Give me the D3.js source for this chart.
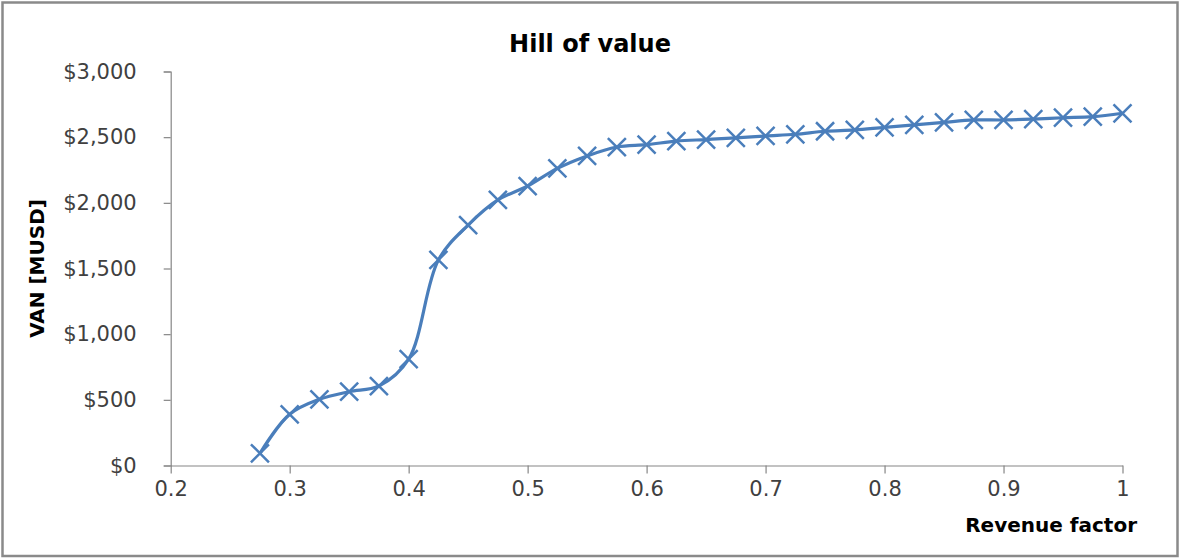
<!DOCTYPE html>
<html>
<head>
<meta charset="utf-8">
<script src="https://cdn.jsdelivr.net/npm/d3@7/dist/d3.min.js"></script>
<style>
  html, body { margin: 0; padding: 0; background: #fff; }
  svg { display: block; }
  text { font-family: "DejaVu Sans", sans-serif; }
</style>
</head>
<body>
<svg id="chart" width="1179" height="559"></svg>
<script>
// Revenue factor (x) and net present value in MUSD (y)
const revenueFactor = [0.275, 0.3, 0.325, 0.35, 0.375, 0.4, 0.425, 0.45, 0.475, 0.5,
  0.525, 0.55, 0.575, 0.6, 0.625, 0.65, 0.675, 0.7, 0.725, 0.75,
  0.775, 0.8, 0.825, 0.85, 0.875, 0.9, 0.925, 0.95, 0.975, 1.0];
const vanMUSD = [93, 390, 504, 562, 605, 810, 1565, 1831, 2022, 2128,
  2262, 2357, 2425, 2443, 2470, 2482, 2494, 2509, 2522, 2545,
  2555, 2575, 2593, 2613, 2631, 2631, 2638, 2648, 2656, 2682];
const xTicks = [0.2, 0.3, 0.4, 0.5, 0.6, 0.7, 0.8, 0.9, 1];
const yTicks = [0, 500, 1000, 1500, 2000, 2500, 3000];

const chartTitle = "Hill of value";
const xTitle = "Revenue factor";
const yTitle = "VAN [MUSD]";

const svg = d3.select("#chart");
const W = 1179, H = 559;
const plot = { left: 170.7, right: 1122.5, top: 71.5, bottom: 465.5 };
const axisColor = "#868686";
const labelColor = "#404040";
const seriesColor = "#4a7ebb";

// chart frame
svg.append("rect")
  .attr("x", 2.5).attr("y", 2.5)
  .attr("width", 1175).attr("height", 553.5)
  .attr("fill", "#fff")
  .attr("stroke", "#8a8a8a")
  .attr("stroke-width", 2.5);

const x = d3.scaleLinear().domain([0.2, 1]).range([plot.left, plot.right]);
const y = d3.scaleLinear().domain([0, 3000]).range([plot.bottom, plot.top]);

// y axis
const yAxis = d3.axisLeft(y)
  .tickValues(yTicks)
  .tickSize(7)
  .tickPadding(27)
  .tickFormat(d => "$" + d3.format(",")(d));
const gy = svg.append("g").attr("transform", `translate(${plot.left},0)`).call(yAxis);
gy.select(".domain").attr("stroke", axisColor).attr("stroke-width", 1.2);
gy.selectAll(".tick line").attr("stroke", axisColor).attr("stroke-width", 1.2);
gy.selectAll(".tick text")
  .attr("fill", labelColor)
  .style("font-size", "21px")
  .style("font-family", "'DejaVu Sans', sans-serif");

// x axis
const xAxis = d3.axisBottom(x)
  .tickValues(xTicks)
  .tickSize(8)
  .tickSizeOuter(0)
  .tickPadding(8)
  .tickFormat(d => d3.format("~g")(d));
const gx = svg.append("g").attr("transform", `translate(0,${plot.bottom})`).call(xAxis);
gx.select(".domain").attr("stroke", axisColor).attr("stroke-width", 1.2);
gx.selectAll(".tick line").attr("stroke", axisColor).attr("stroke-width", 1.2);
gx.selectAll(".tick text")
  .attr("fill", labelColor)
  .style("font-size", "21px")
  .style("font-family", "'DejaVu Sans', sans-serif");

// smoothed series line
const pts = revenueFactor.map((r, i) => [r, vanMUSD[i]]);
const line = d3.line()
  .x(d => x(d[0]))
  .y(d => y(d[1]))
  .curve(d3.curveCatmullRom.alpha(0.5));
svg.append("path")
  .datum(pts)
  .attr("d", line)
  .attr("fill", "none")
  .attr("stroke", seriesColor)
  .attr("stroke-width", 3.2)
  .attr("stroke-linejoin", "round");

// x-shaped markers
const m = 9;
svg.append("g").selectAll("path.marker")
  .data(pts)
  .join("path")
  .attr("class", "marker")
  .attr("d", d => {
    const cx = x(d[0]), cy = y(d[1]);
    return `M${cx - m},${cy - m}L${cx + m},${cy + m}M${cx - m},${cy + m}L${cx + m},${cy - m}`;
  })
  .attr("stroke", seriesColor)
  .attr("stroke-width", 2.5)
  .attr("fill", "none");

// titles
svg.append("text")
  .attr("x", 590).attr("y", 52)
  .attr("text-anchor", "middle")
  .attr("font-weight", "bold")
  .attr("fill", "#000")
  .style("font-size", "24px")
  .text(chartTitle);

svg.append("text")
  .attr("x", 1137).attr("y", 532)
  .attr("text-anchor", "end")
  .attr("font-weight", "bold")
  .attr("fill", "#000")
  .style("font-size", "20px")
  .text(xTitle);

svg.append("text")
  .attr("transform", `translate(44,${(plot.top + plot.bottom) / 2}) rotate(-90)`)
  .attr("text-anchor", "middle")
  .attr("font-weight", "bold")
  .attr("fill", "#000")
  .style("font-size", "20px")
  .text(yTitle);
</script>
</body>
</html>
